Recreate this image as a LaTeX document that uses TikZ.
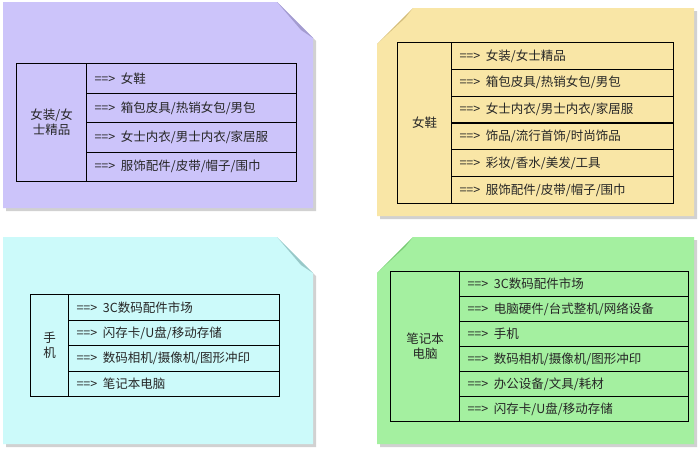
\documentclass[tikz,border=0pt]{standalone}
\usepackage{fontspec}
\newfontfamily\cjk{Noto Sans CJK SC}
\begin{document}
\begin{tikzpicture}[x=1pt,y=-1pt,
  cell/.style={draw=black,line width=1.1pt,anchor=north west,inner sep=0pt},
  itemtxt/.style={anchor=west,font=\cjk\fontsize{12.5}{14}\selectfont,text=black!85},
  headtxt/.style={align=center,font=\cjk\fontsize{12.5}{15}\selectfont,text=black!85}]
\useasboundingbox (0,0) rectangle (700,451);
\fill[white] (0,0) rectangle (700,451);
\newcommand\notepanelR[7]{%
  \fill[black!18] (#4+3,#5+3) -- (#6-36+3,#5+3) -- (#6+3,#5+36+3) -- (#6+3,#7+3) -- (#4+3,#7+3) -- cycle;
  \fill[#2] (#4,#5) -- (#6-36,#5) -- (#6,#5+36) -- (#6,#7) -- (#4,#7) -- cycle;
  \fill[#3] (#6-36,#5) -- (#6,#5+36) -- (#6-12,#5+28) -- cycle;}
\newcommand\notepanelL[7]{%
  \fill[black!18] (#4+36+3,#5+3) -- (#6+3,#5+3) -- (#6+3,#7+3) -- (#4+3,#7+3) -- (#4+3,#5+36+3) -- cycle;
  \fill[#2] (#4+36,#5) -- (#6,#5) -- (#6,#7) -- (#4,#7) -- (#4,#5+36) -- cycle;
  \fill[#3] (#4+36,#5) -- (#4,#5+36) -- (#4+28,#5+10) -- cycle;}
\definecolor{pp}{HTML}{CCC4FA}\definecolor{ppd}{HTML}{A49CD0}
\definecolor{yy}{HTML}{F9E6A6}\definecolor{yyd}{HTML}{D2BC7C}
\definecolor{cc}{HTML}{CCFAFA}\definecolor{ccd}{HTML}{98C8C8}
\definecolor{gg}{HTML}{A4F0A0}\definecolor{ggd}{HTML}{78C874}
\notepanelR{a}{pp}{ppd}{3}{2}{313}{208}
\notepanelL{b}{yy}{yyd}{377}{8}{694}{216}
\notepanelR{c}{cc}{ccd}{3}{237}{313}{444}
\notepanelL{d}{gg}{ggd}{377}{237}{694}{444}
% panel 1
\node[cell,minimum width=70pt,minimum height=118pt] (a0) at (16,63) {};
\node[headtxt] (a0t) at (a0.center) {女装/女\\士精品};
\foreach \i/\t [count=\k] in {0/{女鞋},1/{箱包皮具/热销女包/男包},2/{女士内衣/男士内衣/家居服},3/{服饰配件/皮带/帽子/围巾}}{
  \node[cell,minimum width=210pt,minimum height=29.5pt] (a\k) at (86,63+29.5*\i) {};
  \node[itemtxt] (a\k t) at ([xshift=5pt]a\k.west) {==>\ \ \t};}
% panel 2
\node[cell,minimum width=54pt,minimum height=161pt] (b0) at (397,42) {};
\node[headtxt] (b0t) at (b0.center) {女鞋};
\foreach \i/\t [count=\k] in {0/{女装/女士精品},1/{箱包皮具/热销女包/男包},2/{女士内衣/男士内衣/家居服},3/{饰品/流行首饰/时尚饰品},4/{彩妆/香水/美发/工具},5/{服饰配件/皮带/帽子/围巾}}{
  \node[cell,minimum width=222pt,minimum height=26.83pt] (b\k) at (451,42+26.83*\i) {};
  \node[itemtxt] (b\k t) at ([xshift=5pt]b\k.west) {==>\ \ \t};}
% panel 3
\node[cell,minimum width=38pt,minimum height=102pt] (c0) at (30,294) {};
\node[headtxt] (c0t) at (c0.center) {手\\机};
\foreach \i/\t [count=\k] in {0/{3C数码配件市场},1/{闪存卡/U盘/移动存储},2/{数码相机/摄像机/图形冲印},3/{笔记本电脑}}{
  \node[cell,minimum width=211pt,minimum height=25.5pt] (c\k) at (68,294+25.5*\i) {};
  \node[itemtxt] (c\k t) at ([xshift=5pt]c\k.west) {==>\ \ \t};}
% panel 4
\node[cell,minimum width=69pt,minimum height=150pt] (d0) at (390,271) {};
\node[headtxt] (d0t) at (d0.center) {笔记本\\电脑};
\foreach \i/\t [count=\k] in {0/{3C数码配件市场},1/{电脑硬件/台式整机/网络设备},2/{手机},3/{数码相机/摄像机/图形冲印},4/{办公设备/文具/耗材},5/{闪存卡/U盘/移动存储}}{
  \node[cell,minimum width=229pt,minimum height=25pt] (d\k) at (459,271+25*\i) {};
  \node[itemtxt] (d\k t) at ([xshift=5pt]d\k.west) {==>\ \ \t};}
\end{tikzpicture}
\end{document}
